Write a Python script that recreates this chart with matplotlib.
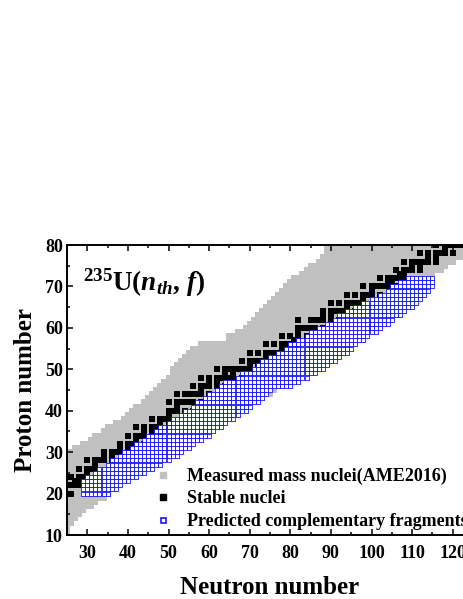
import matplotlib
matplotlib.use('Agg')
import matplotlib.pyplot as plt
from matplotlib.lines import Line2D
from matplotlib.ticker import MultipleLocator

plt.rcParams['font.family'] = 'Liberation Serif'
plt.rcParams['font.weight'] = 'bold'
plt.rcParams['mathtext.fontset'] = 'custom'
plt.rcParams['mathtext.rm'] = 'Liberation Serif:bold'
plt.rcParams['mathtext.it'] = 'Liberation Serif:bold:italic'
plt.rcParams['mathtext.bf'] = 'Liberation Serif:bold'

# measured mass nuclei (AME2016): one row per proton number, neutron range
meas_z = list(range(11, 81))
meas_nmin = [23, 23, 23, 23, 23, 23, 23, 23, 23, 23,   # Z 11-20
             23, 23, 23, 23, 23, 23, 23, 23, 23, 23,   # Z 21-30
             27, 29, 31, 32, 34, 35, 37, 39, 40, 41,   # Z 31-40
             42, 44, 45, 46, 47, 48, 49, 50, 51, 51,   # Z 41-50
             52, 53, 54, 55, 56, 58, 65, 65, 67, 69,   # Z 51-60
             70, 71, 72, 73, 74, 75, 76, 77, 78, 79,   # Z 61-70
             80, 81, 83, 84, 85, 87, 88, 89, 89, 90]   # Z 71-80
meas_nmax = [25, 25, 26, 27, 28, 29, 31, 32, 34, 35,
             35, 36, 38, 40, 42, 44, 46, 48, 50, 51,
             53, 54, 56, 58, 59, 61, 62, 64, 65, 67,
             68, 70, 71, 75, 76, 78, 80, 82, 84, 86,
             87, 89, 90, 92, 93, 94, 96, 97, 99, 100,
             102, 103, 105, 106, 108, 109, 110, 111, 112, 113,
             113, 113, 115, 117, 118, 120, 122, 123, 124, 125]

# stable nuclei: proton number and its stable neutron numbers
stable_z = [20, 22, 23, 24, 25, 26, 27, 28, 29, 30, 31, 32, 33, 34, 35, 36, 37, 38,
            39, 40, 41, 42, 44, 45, 46, 47, 48, 49, 50, 51, 52, 53, 54, 55, 56, 57,
            58, 59, 60, 62, 63, 64, 65, 66, 67, 68, 69, 70, 71, 72, 73, 74, 75, 76,
            77, 78, 79, 80]
stable_n = [[26], [24, 25, 26, 27, 28], [27, 28], [26, 28, 29, 30], [30],
            [28, 30, 31, 32], [32], [30, 32, 33, 34, 36], [34, 36],
            [34, 36, 37, 38, 40], [38, 40], [38, 40, 41, 42, 44], [42],
            [40, 42, 43, 44, 46, 48], [44, 46], [42, 44, 46, 47, 48, 50], [48, 50],
            [46, 48, 49, 50], [50], [50, 51, 52, 54, 56], [52],
            [50, 52, 53, 54, 55, 56, 58], [52, 54, 55, 56, 57, 58, 60], [58],
            [56, 58, 59, 60, 62, 64], [60, 62], [58, 60, 62, 63, 64, 65, 66, 68],
            [64, 66], [62, 64, 65, 66, 67, 68, 69, 70, 72, 74], [70, 72],
            [68, 70, 71, 72, 73, 74, 76, 78], [74], [70, 72, 74, 75, 76, 77, 78, 80, 82],
            [78], [74, 76, 78, 79, 80, 81, 82], [81, 82], [78, 80, 82, 84], [82],
            [82, 83, 84, 85, 86, 88, 90], [82, 85, 86, 87, 88, 90, 92], [88, 90],
            [88, 90, 91, 92, 93, 94, 96], [94], [90, 92, 94, 95, 96, 97, 98], [98],
            [94, 96, 98, 99, 100, 102], [100], [98, 100, 101, 102, 103, 104, 106],
            [104, 105], [102, 104, 105, 106, 107, 108], [107, 108],
            [106, 108, 109, 110, 112], [110, 112], [108, 110, 111, 112, 113, 114, 116],
            [114, 116], [112, 114, 116, 117, 118, 120], [118],
            [116, 118, 119, 120, 121, 122, 124]]

# predicted complementary fragments of 235U(n_th, f)
frag_z = list(range(20, 73))
frag_nmin = [29, 29, 29, 29, 30, 32, 33, 35, 36, 38,
             39, 41, 42, 44, 45, 47, 48, 50, 51, 53,
             54, 56, 57, 59, 60, 62, 63, 64, 67, 68,
             71, 72, 73, 75, 77, 79, 80, 82, 84, 85,
             87, 89, 91, 92, 94, 96, 98, 100, 102, 104,
             105, 107, 109]
frag_nmax = [35, 37, 38, 40, 42, 44, 46, 48, 50, 52,
             53, 55, 56, 58, 60, 61, 63, 64, 66, 67,
             69, 70, 72, 73, 74, 75, 80, 82, 84, 86,
             88, 89, 91, 92, 94, 95, 96, 98, 99, 101,
             102, 104, 105, 107, 108, 110, 111, 112, 113, 114,
             115, 115, 115]


def expand(zs, lo, hi):
    nn, zz = [], []
    for z, a, b in zip(zs, lo, hi):
        for n in range(a, b + 1):
            nn.append(n)
            zz.append(z)
    return nn, zz


meas_n, meas_zz = expand(meas_z, meas_nmin, meas_nmax)
frag_n, frag_zz = expand(frag_z, frag_nmin, frag_nmax)
st_n = [n for ns in stable_n for n in ns]
st_z = [z for z, ns in zip(stable_z, stable_n) for _ in ns]

fig = plt.figure(figsize=(4.63, 5.99), dpi=100)
ax = fig.add_axes([67 / 463, 64 / 599, 406 / 463, 290 / 599])

ax.scatter(meas_n, meas_zz, s=18.7, marker='s', color='#c0c0c0', linewidths=0, zorder=1)
ax.scatter(st_n, st_z, s=18.7, marker='s', color='black', linewidths=0, zorder=2)
frag = ax.scatter(frag_n, frag_zz, s=8.6, marker='s', facecolors='white',
                  edgecolors='blue', linewidths=0.55, zorder=3)
frag.set_snap(False)

ax.set_xlim(25, 125)
ax.set_ylim(10, 80)
ax.xaxis.set_major_locator(MultipleLocator(10))
ax.xaxis.set_minor_locator(MultipleLocator(5))
ax.yaxis.set_major_locator(MultipleLocator(10))
ax.yaxis.set_minor_locator(MultipleLocator(5))
ax.tick_params(which='both', direction='in', top=True, right=False, width=1.1,
               labelsize=13)
ax.tick_params(which='major', length=4)
ax.tick_params(which='minor', length=2.2)
ax.tick_params(axis='x', pad=7)
ax.tick_params(axis='y', pad=3)
for sp in ax.spines.values():
    sp.set_linewidth(1.4)

ax.set_xlabel('Neutron number', fontsize=18, fontweight='bold', labelpad=10)
ax.set_ylabel('Proton number', fontsize=18, fontweight='bold', labelpad=6)

ax.text(28.9, 69.0, r'$^{235}$U($n_{th}$, $f$)', fontsize=19.5, fontweight='bold',
        ha='left', va='baseline')

handles = [
    Line2D([], [], ls='none', marker='s', ms=4.4, color='#c0c0c0', mec='#c0c0c0'),
    Line2D([], [], ls='none', marker='s', ms=4.4, color='black'),
    Line2D([], [], ls='none', marker='s', ms=3.6, mfc='white', mec='blue', mew=1.1),
]
labels = ['Measured mass nuclei(AME2016)', 'Stable nuclei',
          'Predicted complementary fragments']
ax.legend(handles, labels, loc='upper left', bbox_to_anchor=(0.213, 0.232),
          frameon=False, fontsize=13, handlelength=1.0, handletextpad=0.85,
          labelspacing=0.3, borderpad=0, borderaxespad=0)

fig.savefig('out.png', dpi=100)
